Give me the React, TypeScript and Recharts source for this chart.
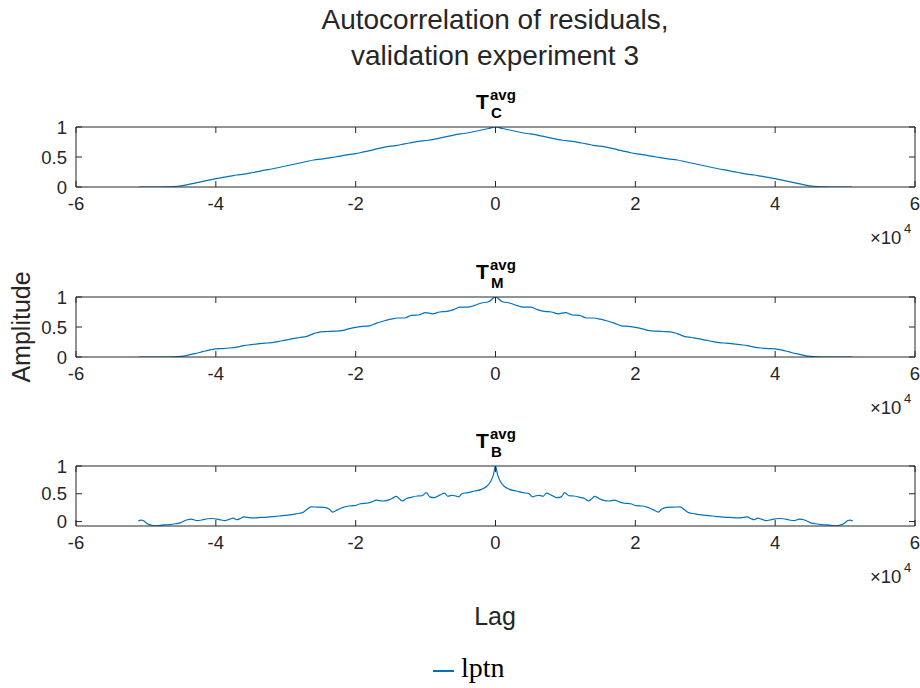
import { Line, LineChart, XAxis, YAxis } from "recharts";

const BLUE = "#0072BD";
const INK = "#262626";
const SANS = "'Liberation Sans', Arial, Helvetica, sans-serif";

// lag axis in units of 1e4 samples
const lagTicks = [-6, -4, -2, 0, 2, 4, 6];
const ampTicks = [0, 0.5, 1];

// positive-lag half of each autocorrelation (the sequence is even in lag)
const lagsCM = [
  0, 0.1, 0.2, 0.3, 0.4, 0.5, 0.6, 0.7, 0.8, 0.9, 1.0, 1.1, 1.2, 1.3, 1.4, 1.5, 1.6, 1.7,
  1.8, 1.9, 2.0, 2.1, 2.2, 2.3, 2.4, 2.5, 2.6, 2.7, 2.8, 2.9, 3.0, 3.1, 3.2, 3.3, 3.4, 3.5,
  3.6, 3.7, 3.8, 3.9, 4.0, 4.1, 4.2, 4.3, 4.4, 4.5, 4.6, 4.7, 4.8, 4.9, 5.0, 5.1,
];

const acfC = [
  1.0, 0.975, 0.95, 0.925, 0.9, 0.885, 0.865, 0.84, 0.815, 0.79, 0.775, 0.76, 0.74, 0.72,
  0.695, 0.68, 0.66, 0.635, 0.605, 0.58, 0.555, 0.54, 0.52, 0.5, 0.48, 0.465, 0.45, 0.425,
  0.4, 0.375, 0.35, 0.325, 0.3, 0.28, 0.255, 0.235, 0.215, 0.2, 0.18, 0.16, 0.14, 0.115,
  0.09, 0.065, 0.04, 0.02, 0.008, 0.002, 0, 0, 0, 0,
];

const acfM = [
  1.0, 0.92, 0.9, 0.86, 0.83, 0.83, 0.79, 0.76, 0.75, 0.72, 0.74, 0.7, 0.695, 0.65, 0.65,
  0.63, 0.6, 0.565, 0.52, 0.51, 0.495, 0.47, 0.44, 0.43, 0.425, 0.42, 0.39, 0.345, 0.325,
  0.305, 0.28, 0.26, 0.24, 0.23, 0.22, 0.205, 0.19, 0.165, 0.15, 0.14, 0.135, 0.115, 0.085,
  0.055, 0.03, 0.01, 0.002, 0, 0, 0, 0, 0,
];

const lagsB = [
  0, 0.03, 0.07, 0.12, 0.2, 0.3, 0.4, 0.48, 0.53, 0.58, 0.63, 0.68, 0.73, 0.8, 0.88, 0.94,
  0.99, 1.05, 1.12, 1.21, 1.28, 1.33, 1.38, 1.42, 1.48, 1.55, 1.62, 1.7, 1.78, 1.85, 1.93,
  2.02, 2.1, 2.18, 2.26, 2.33, 2.38, 2.45, 2.55, 2.64, 2.7, 2.76, 2.85, 2.95, 3.05, 3.15,
  3.25, 3.35, 3.45, 3.55, 3.6, 3.65, 3.7, 3.75, 3.8, 3.87, 3.95, 4.05, 4.12, 4.2, 4.28,
  4.35, 4.42, 4.5, 4.58, 4.66, 4.74, 4.8, 4.86, 4.92, 4.98, 5.04, 5.07, 5.11,
];

const acfB = [
  1.0, 0.84, 0.72, 0.64, 0.58, 0.55, 0.52, 0.5, 0.445, 0.465, 0.47, 0.455, 0.51, 0.475,
  0.43, 0.445, 0.52, 0.465, 0.46, 0.435, 0.41, 0.37, 0.415, 0.455, 0.415, 0.38, 0.37,
  0.385, 0.35, 0.33, 0.32, 0.285, 0.28, 0.255, 0.21, 0.17, 0.225, 0.255, 0.26, 0.265,
  0.215, 0.16, 0.14, 0.12, 0.105, 0.095, 0.08, 0.075, 0.065, 0.075, 0.085, 0.055, 0.035,
  0.06, 0.045, 0.018, 0.035, 0.055, 0.05, 0.028, 0.018, 0.045, 0.028, -0.02, -0.04,
  -0.055, -0.06, -0.07, -0.078, -0.065, -0.04, 0.018, 0.025, 0.01,
];

// mirror the half sequence onto negative lags, lags scaled to samples
function twoSided(lags: number[], vals: number[]) {
  const pos = lags.map((l, i) => ({ lag: l * 1e4, v: vals[i] }));
  const neg = pos.slice(1).reverse().map((p) => ({ lag: -p.lag, v: p.v }));
  return [...neg, ...pos];
}

const dataC = twoSided(lagsCM, acfC);
const dataM = twoSided(lagsCM, acfM);
const dataB = twoSided(lagsB, acfB);

const PAD = 10;
const GAP = 4; // tickMargin: distance from axis line to tick origin
const TICK = 6; // inward tick length
const FONT = 18.5;
const lagTickValues = lagTicks.map((t) => t * 1e4);

// MATLAB-style ticks: short marks pointing into the plot box
function BottomTick({ x, y, payload }: any) {
  const ay = y - GAP;
  return (
    <g>
      <line x1={x} x2={x} y1={ay} y2={ay - TICK} stroke={INK} />
      <text x={x} y={ay + 23} textAnchor="middle" fill={INK} fontSize={FONT} fontFamily={SANS}>
        {String(payload.value / 1e4)}
      </text>
    </g>
  );
}

function TopTick({ x, y }: any) {
  const ay = y + GAP;
  return <line x1={x} x2={x} y1={ay} y2={ay + TICK} stroke={INK} />;
}

function LeftTick({ x, y, payload }: any) {
  const ax = x + GAP;
  return (
    <g>
      <line x1={ax} x2={ax + TICK} y1={y} y2={y} stroke={INK} />
      <text x={ax - 9} y={y + 6.5} textAnchor="end" fill={INK} fontSize={FONT} fontFamily={SANS}>
        {String(payload.value)}
      </text>
    </g>
  );
}

function RightTick({ x, y }: any) {
  const ax = x - GAP;
  return <line x1={ax} x2={ax - TICK} y1={y} y2={y} stroke={INK} />;
}

function Panel({
  data,
  top,
  plotH,
  yDomain,
}: {
  data: { lag: number; v: number }[];
  top: number;
  plotH: number;
  yDomain: [number, number];
}) {
  const axisCommon = {
    axisLine: { stroke: INK, strokeWidth: 1 },
    tickLine: false,
    tickSize: 0,
    tickMargin: GAP,
    interval: 0 as const,
  };
  return (
    <div style={{ position: "absolute", left: 0, top: top - PAD }}>
      <LineChart
        width={920}
        height={plotH + PAD + 40}
        data={data}
        margin={{ top: PAD - 1, right: 4, bottom: 0, left: 0 }}
      >
        <XAxis
          xAxisId="b"
          dataKey="lag"
          type="number"
          domain={[-6e4, 6e4]}
          ticks={lagTickValues}
          height={40}
          tick={<BottomTick />}
          {...axisCommon}
        />
        {/* top and right axes close the box */}
        <XAxis
          xAxisId="t"
          dataKey="lag"
          orientation="top"
          type="number"
          domain={[-6e4, 6e4]}
          ticks={lagTickValues}
          height={1}
          tick={<TopTick />}
          {...axisCommon}
        />
        <YAxis
          yAxisId="l"
          type="number"
          domain={yDomain}
          ticks={ampTicks}
          allowDataOverflow
          width={76}
          tick={<LeftTick />}
          {...axisCommon}
        />
        <YAxis
          yAxisId="r"
          orientation="right"
          type="number"
          domain={yDomain}
          ticks={ampTicks}
          allowDataOverflow
          width={1}
          tick={<RightTick />}
          {...axisCommon}
        />
        <Line
          xAxisId="t"
          yAxisId="r"
          type="monotone"
          dataKey="v"
          stroke="none"
          dot={false}
          activeDot={false}
          legendType="none"
          isAnimationActive={false}
        />
        <Line
          xAxisId="b"
          yAxisId="l"
          type="monotone"
          dataKey="v"
          stroke={BLUE}
          strokeWidth={1.2}
          dot={false}
          isAnimationActive={false}
        />
      </LineChart>
    </div>
  );
}

function SubTitle({ top, sub }: { top: number; sub: string }) {
  return (
    <g fontFamily={SANS} fontWeight="bold" fill="#000">
      <text x={476} y={top + 15} fontSize={21}>T</text>
      <text x={490} y={top + 6} fontSize={15}>avg</text>
      <text x={491} y={top + 24} fontSize={15}>{sub}</text>
    </g>
  );
}

function Exponent({ y }: { y: number }) {
  return (
    <g fontFamily={SANS} fill={INK}>
      <text x={870} y={y} fontSize={FONT}>×10</text>
      <text x={904} y={y - 11} fontSize={13}>4</text>
    </g>
  );
}

export default function App() {
  const panels = [
    { data: dataC, top: 127, plotH: 60, yDomain: [0, 1] as [number, number], sub: "C" },
    { data: dataM, top: 297, plotH: 60, yDomain: [0, 1] as [number, number], sub: "M" },
    { data: dataB, top: 466, plotH: 60, yDomain: [-0.08, 1] as [number, number], sub: "B" },
  ];
  return (
    <div
      style={{
        position: "absolute",
        left: 0,
        top: 0,
        width: 920,
        height: 688,
        background: "#fff",
        overflow: "hidden",
      }}
    >
      {panels.map((p) => (
        <Panel key={p.sub} data={p.data} top={p.top} plotH={p.plotH} yDomain={p.yDomain} />
      ))}
      <svg
        width={920}
        height={688}
        style={{ position: "absolute", left: 0, top: 0, pointerEvents: "none" }}
      >
        <g fontFamily={SANS} fill={INK} fontSize={28} textAnchor="middle">
          <text x={495} y={29}>Autocorrelation of residuals,</text>
          <text x={495} y={65}>validation experiment 3</text>
        </g>
        {panels.map((p) => (
          <SubTitle key={p.sub} top={p.top - 33} sub={p.sub} />
        ))}
        {panels.map((p) => (
          <Exponent key={p.sub} y={p.top + p.plotH + 57} />
        ))}
        <text
          x={30}
          y={327}
          transform="rotate(-90 30 327)"
          textAnchor="middle"
          fontFamily={SANS}
          fontSize={25}
          fill={INK}
        >
          Amplitude
        </text>
        <text x={495} y={625} textAnchor="middle" fontFamily={SANS} fontSize={25} fill={INK}>
          Lag
        </text>
        <line x1={433} x2={454} y1={671} y2={671} stroke={BLUE} strokeWidth={2} />
        <text x={461} y={677} fontFamily="'Liberation Serif', 'Times New Roman', serif" fontSize={28} fill="#000">
          lptn
        </text>
      </svg>
    </div>
  );
}
